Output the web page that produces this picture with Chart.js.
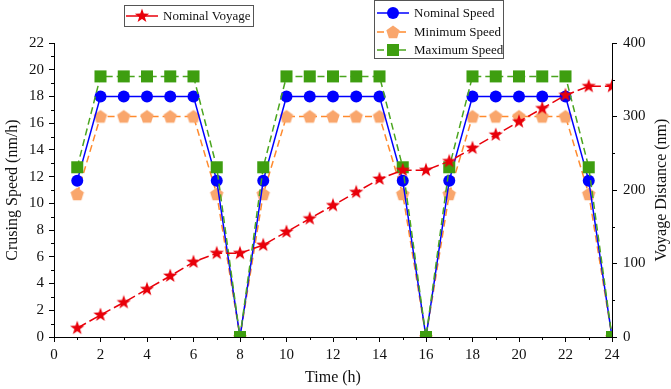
<!DOCTYPE html>
<html>
<head>
<meta charset="utf-8">
<script src="https://cdn.jsdelivr.net/npm/chart.js@4.4.0/dist/chart.umd.min.js"></script>
<style>
  html, body { margin: 0; padding: 0; background: #fff; }
</style>
</head>
<body>
<canvas id="chart" width="671" height="389"></canvas>
<script>
// data
const hours = [1, 2, 3, 4, 5, 6, 7, 8, 9, 10, 11, 12, 13, 14, 15, 16, 17, 18, 19, 20, 21, 22, 23, 24];
const nominalSpeed = [11.7, 18, 18, 18, 18, 18, 11.7, 0, 11.7, 18, 18, 18, 18, 18, 11.7, 0, 11.7, 18, 18, 18, 18, 18, 11.7, 0];
const minimumSpeed = [10.7, 16.5, 16.5, 16.5, 16.5, 16.5, 10.7, 0, 10.7, 16.5, 16.5, 16.5, 16.5, 16.5, 10.7, 0, 10.7, 16.5, 16.5, 16.5, 16.5, 16.5, 10.7, 0];
const maximumSpeed = [12.7, 19.5, 19.5, 19.5, 19.5, 19.5, 12.7, 0, 12.7, 19.5, 19.5, 19.5, 19.5, 19.5, 12.7, 0, 12.7, 19.5, 19.5, 19.5, 19.5, 19.5, 12.7, 0];
const nominalVoyage = [12, 30, 47, 65, 83, 102, 114, 114, 125, 143, 161, 179, 197, 215, 227, 227, 239, 257, 275, 293, 311, 329, 341, 341];

const speedTicks = [0, 2, 4, 6, 8, 10, 12, 14, 16, 18, 20, 22];
const distanceTicks = [0, 100, 200, 300, 400];
const timeTicks = [0, 2, 4, 6, 8, 10, 12, 14, 16, 18, 20, 22, 24];

const BLUE = '#0000ff';
const ORANGE_FILL = '#f9a66c';
const ORANGE_LINE = '#ff8a2e';
const GREEN_FILL = '#3e9e10';
const GREEN_LINE = '#4aa51e';
const RED = '#e8000a';
const FONT = '"Liberation Serif", "Times New Roman", serif';

function toPoints(ys) {
    return hours.map((h, i) => ({ x: h, y: ys[i] }));
}

// marker shapes that Chart.js doesn't have
function starPath(ctx, cx, cy, R, r) {
    ctx.beginPath();
    for (let i = 0; i < 10; i++) {
        const rad = i % 2 === 0 ? R : r;
        const a = -Math.PI / 2 + i * Math.PI / 5;
        const px = cx + rad * Math.cos(a), py = cy + rad * Math.sin(a);
        if (i === 0) ctx.moveTo(px, py); else ctx.lineTo(px, py);
    }
    ctx.closePath();
}
function pentagonPath(ctx, cx, cy, R) {
    ctx.beginPath();
    for (let i = 0; i < 5; i++) {
        const a = -Math.PI / 2 + i * 2 * Math.PI / 5;
        const px = cx + R * Math.cos(a), py = cy + R * Math.sin(a);
        if (i === 0) ctx.moveTo(px, py); else ctx.lineTo(px, py);
    }
    ctx.closePath();
}
function makeMarker(draw, size) {
    const c = document.createElement('canvas');
    c.width = size; c.height = size;
    draw(c.getContext('2d'), size / 2, size / 2);
    return c;
}
const starImg = makeMarker((g, cx, cy) => { starPath(g, cx, cy, 7.5, 3); g.fillStyle = RED; g.fill(); }, 16);
const pentaImg = makeMarker((g, cx, cy) => { pentagonPath(g, cx, cy + 0.5, 7); g.fillStyle = ORANGE_FILL; g.fill(); }, 16);

// minor ticks (Origin style)
const minorTicks = {
    id: 'minorTicks',
    afterDraw(chart) {
        const { ctx, chartArea, scales } = chart;
        ctx.save();
        ctx.strokeStyle = '#000';
        ctx.lineWidth = 1;
        ctx.beginPath();
        for (let v = 1; v < 24; v += 2) {
            const px = Math.round(scales.x.getPixelForValue(v)) + 0.5;
            ctx.moveTo(px, chartArea.bottom);
            ctx.lineTo(px, chartArea.bottom + 3);
        }
        for (let v = 1; v < 22; v += 2) {
            const py = Math.round(scales.y.getPixelForValue(v)) + 0.5;
            ctx.moveTo(chartArea.left, py);
            ctx.lineTo(chartArea.left - 3, py);
        }
        for (let v = 50; v < 400; v += 100) {
            const py = Math.round(scales.y2.getPixelForValue(v)) + 0.5;
            ctx.moveTo(chartArea.right, py);
            ctx.lineTo(chartArea.right + 3, py);
        }
        ctx.stroke();

        // right axis title reads bottom-to-top, like the left one
        ctx.translate(662, (chartArea.top + chartArea.bottom) / 2);
        ctx.rotate(-Math.PI / 2);
        ctx.fillStyle = '#111';
        ctx.font = '16px ' + FONT;
        ctx.textAlign = 'center';
        ctx.textBaseline = 'middle';
        ctx.fillText('Voyage Distance (nm)', 0, 0);
        ctx.restore();
    }
};

// two framed legends like the original
const boxLegends = {
    id: 'boxLegends',
    afterDraw(chart) {
        const ctx = chart.ctx;
        const ds = chart.data.datasets;
        function box(x, y, w, h) {
            ctx.save();
            ctx.strokeStyle = '#555';
            ctx.lineWidth = 1;
            ctx.fillStyle = '#fff';
            ctx.fillRect(x, y, w, h);
            ctx.strokeRect(x + 0.5, y + 0.5, w, h);
            ctx.restore();
        }
        function entry(d, x, y, dash) {
            ctx.save();
            ctx.strokeStyle = d.borderColor;
            ctx.lineWidth = 1.5;
            ctx.setLineDash(dash);
            ctx.beginPath();
            ctx.moveTo(x, y);
            ctx.lineTo(x + 32, y);
            ctx.stroke();
            ctx.setLineDash([]);
            const cx = x + 16;
            if (d.pointStyle instanceof HTMLCanvasElement) {
                ctx.drawImage(d.pointStyle, cx - d.pointStyle.width / 2, y - d.pointStyle.height / 2);
            } else if (d.pointStyle === 'rect') {
                ctx.fillStyle = d.pointBackgroundColor;
                ctx.fillRect(cx - 6, y - 6, 12, 12);
            } else {
                ctx.fillStyle = d.pointBackgroundColor;
                ctx.beginPath();
                ctx.arc(cx, y, 6, 0, Math.PI * 2);
                ctx.fill();
            }
            ctx.fillStyle = '#111';
            ctx.font = '13px ' + FONT;
            ctx.textBaseline = 'middle';
            ctx.fillText(d.label, x + 37, y + 1);
            ctx.restore();
        }
        box(124, 5, 129, 21);
        entry(ds[0], 126, 16, []);
        box(374, 0, 129, 58);
        entry(ds[1], 377, 13, []);
        entry(ds[2], 377, 32, [7, 4]);
        entry(ds[3], 377, 50, [7, 4]);
    }
};

const tickFont = { family: FONT, size: 15 };
const titleFont = { family: FONT, size: 16 };

new Chart(document.getElementById('chart').getContext('2d'), {
    type: 'line',
    data: {
        datasets: [
            {
                label: 'Nominal Voyage',
                data: toPoints(nominalVoyage),
                yAxisID: 'y2',
                borderColor: RED,
                borderWidth: 1.5,
                borderDash: [10, 4],
                pointStyle: starImg,
                pointBackgroundColor: RED,
                pointRadius: 7,
                order: 0
            },
            {
                label: 'Nominal Speed',
                data: toPoints(nominalSpeed),
                yAxisID: 'y',
                borderColor: BLUE,
                borderWidth: 1.5,
                pointStyle: 'circle',
                pointBackgroundColor: BLUE,
                pointBorderWidth: 0,
                pointRadius: 6,
                clip: 0,
                order: 2
            },
            {
                label: 'Minimum Speed',
                data: toPoints(minimumSpeed),
                yAxisID: 'y',
                borderColor: ORANGE_LINE,
                borderWidth: 1.5,
                borderDash: [7, 4],
                pointStyle: pentaImg,
                pointBackgroundColor: ORANGE_FILL,
                pointRadius: 7,
                clip: 0,
                order: 3
            },
            {
                label: 'Maximum Speed',
                data: toPoints(maximumSpeed),
                yAxisID: 'y',
                borderColor: GREEN_LINE,
                borderWidth: 1.5,
                borderDash: [7, 4],
                pointStyle: 'rect',
                pointBackgroundColor: GREEN_FILL,
                pointBorderWidth: 0,
                pointRadius: 8.5,
                clip: 0,
                order: 1
            }
        ]
    },
    options: {
        responsive: false,
        animation: false,
        layout: { padding: { top: 43, left: 0, right: 0, bottom: 0 } },
        plugins: { legend: { display: false }, tooltip: { enabled: false } },
        scales: {
            x: {
                type: 'linear',
                min: 0, max: 24,
                afterBuildTicks: s => { s.ticks = timeTicks.map(v => ({ value: v })); },
                afterFit: s => { s.height = 52; },
                grid: { drawOnChartArea: false, tickLength: 5, color: '#000' },
                border: { color: '#000', width: 1 },
                ticks: { color: '#111', font: tickFont, padding: 4, maxRotation: 0 },
                title: { display: true, text: 'Time (h)', color: '#111', font: titleFont, padding: { top: 0, bottom: 2 } }
            },
            y: {
                position: 'left',
                min: 0, max: 22,
                afterBuildTicks: s => { s.ticks = speedTicks.map(v => ({ value: v })); },
                afterFit: s => { s.width = 54; },
                grid: { drawOnChartArea: false, tickLength: 5, color: '#000' },
                border: { color: '#000', width: 1 },
                ticks: { color: '#111', font: tickFont, padding: 5 },
                title: { display: true, text: 'Crusing Speed (nm/h)', color: '#111', font: titleFont, padding: { top: 3, bottom: 0 } }
            },
            y2: {
                position: 'right',
                min: 0, max: 400,
                afterBuildTicks: s => { s.ticks = distanceTicks.map(v => ({ value: v })); },
                afterFit: s => { s.width = 59; },
                grid: { drawOnChartArea: false, tickLength: 5, color: '#000' },
                border: { color: '#000', width: 1 },
                ticks: { color: '#111', font: tickFont, padding: 6 },
                title: { display: false }
            }
        }
    },
    plugins: [minorTicks, boxLegends]
});
</script>
</body>
</html>
